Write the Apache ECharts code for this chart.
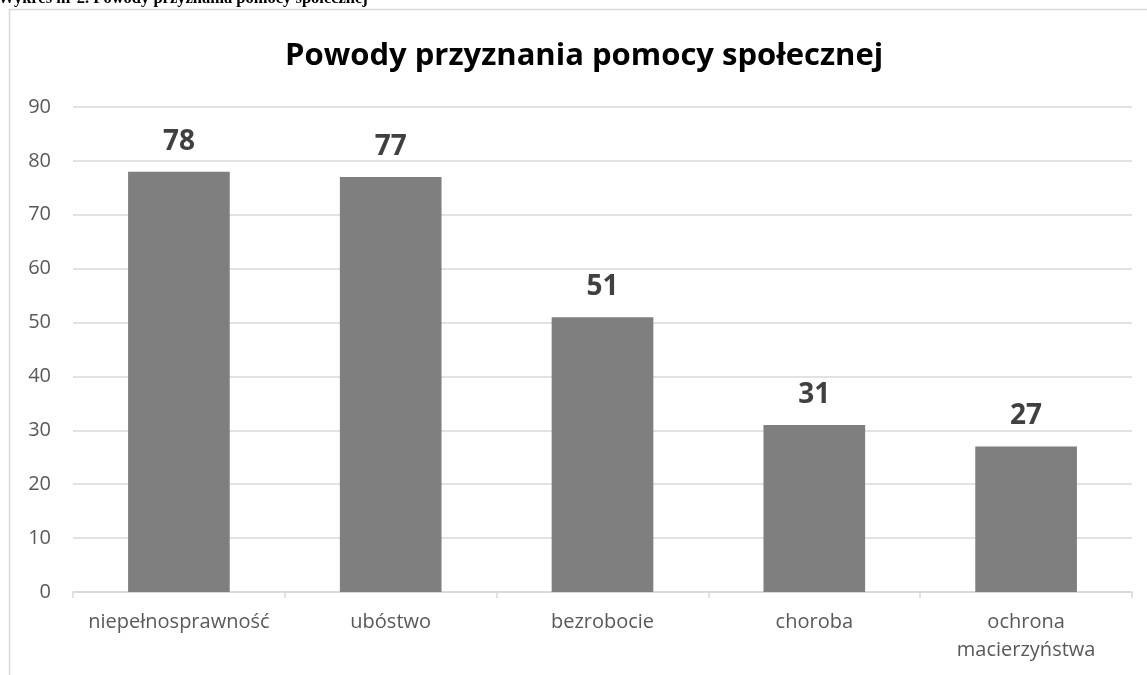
<!DOCTYPE html>
<html>
<head>
<meta charset="utf-8">
<script src="https://cdn.jsdelivr.net/npm/echarts@6/dist/echarts.min.js"></script>
<style>
  html, body { margin: 0; padding: 0; background: #fff; }
  #chart { width: 1147px; height: 675px; }
</style>
</head>
<body>
<div id="chart"></div>
<script>
  const categories = ['niepełnosprawność', 'ubóstwo', 'bezrobocie', 'choroba', 'ochrona\nmacierzyństwa']
  const values = [78, 77, 51, 31, 27]
  const yTicks = [0, 10, 20, 30, 40, 50, 60, 70, 80, 90]

  const chart = echarts.init(document.getElementById('chart'))
  const option = {
    animation: false,
    title: [
      {
        text: 'Powody przyznania pomocy społecznej',
        left: 285,
        top: 41,
        padding: 0,
        textStyle: {
          fontFamily: 'Open Sans',
          fontWeight: 'bold',
          fontSize: 31,
          color: '#000'
        }
      },
      {
        // caption cut off at the top of the page
        text: '{n|Wykres nr }{b|2}{n|. Powody przyznania pomocy społecznej}',
        left: -2,
        top: -11,
        padding: 0,
        textStyle: {
          fontFamily: 'Liberation Serif',
          fontSize: 16.5,
          lineHeight: 20,
          color: '#000',
          rich: {
            n: { fontFamily: 'Liberation Serif', fontSize: 16.5, lineHeight: 20, color: '#000' },
            b: { fontFamily: 'Liberation Serif', fontSize: 16.5, lineHeight: 20, fontWeight: 'bold', color: '#000' }
          }
        }
      }
    ],
    graphic: [{
      type: 'rect',
      shape: { x: 9.5, y: 9.5, width: 1300, height: 800 },
      style: { fill: 'none', stroke: '#d9d9d9', lineWidth: 1.5 },
      silent: true,
      z: -1
    }],
    grid: {
      left: 73,
      right: 15,
      top: 107,
      bottom: 83
    },
    xAxis: {
      type: 'category',
      data: categories,
      axisLine: { lineStyle: { color: '#d9d9d9', width: 1.5 } },
      axisTick: { show: true, length: 6, lineStyle: { color: '#d9d9d9', width: 1.5 } },
      axisLabel: {
        color: '#595959',
        fontFamily: 'Open Sans',
        fontSize: 20,
        lineHeight: 28,
        margin: 16,
        interval: 0
      }
    },
    yAxis: {
      type: 'value',
      min: yTicks[0],
      max: yTicks[yTicks.length - 1],
      interval: 10,
      axisLine: { show: false },
      axisTick: { show: false },
      splitLine: { lineStyle: { color: '#d9d9d9', width: 1.5 } },
      axisLabel: {
        color: '#595959',
        fontFamily: 'Open Sans',
        fontSize: 20,
        margin: 22
      }
    },
    series: [{
      type: 'bar',
      data: values,
      barWidth: '48%',
      itemStyle: { color: '#7f7f7f' },
      label: {
        show: true,
        position: 'top',
        distance: 16,
        color: '#404040',
        fontFamily: 'Open Sans',
        fontWeight: 'bold',
        fontSize: 28
      }
    }]
  }
  chart.setOption(option)
</script>
</body>
</html>
